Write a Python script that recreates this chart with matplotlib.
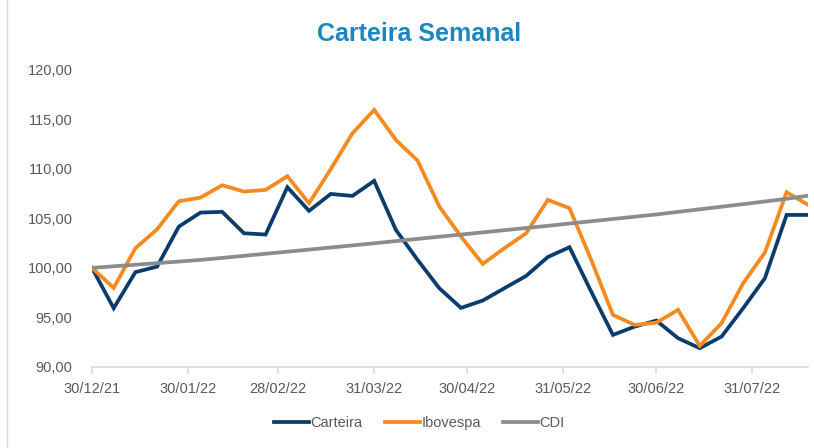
import numpy as np
import pandas as pd
import matplotlib
matplotlib.use("Agg")
import matplotlib.pyplot as plt
import matplotlib.dates as mdates
from matplotlib.patches import Rectangle
from matplotlib.ticker import FuncFormatter

# weekly dates, starting 30/12/21
dates = pd.date_range("2021-12-30", periods=34, freq="7D")

carteira = [100.00, 95.93, 99.57, 100.13, 104.17, 105.59, 105.66, 103.50, 103.37, 108.15,
            105.76, 107.47, 107.27, 108.79, 103.84, 100.81, 97.95, 95.96, 96.70, 97.95,
            99.19, 101.10, 102.09, 97.60, 93.23, 94.07, 94.68, 92.90, 91.89, 93.06,
            95.93, 98.96, 105.35, 105.35]

ibovespa = [100.00, 97.98, 101.99, 103.90, 106.73, 107.10, 108.35, 107.71, 107.88, 109.26,
            106.53, 109.97, 113.60, 115.96, 112.93, 110.84, 106.20, 103.16, 100.40, 101.99,
            103.50, 106.87, 106.03, 100.80, 95.25, 94.24, 94.47, 95.76, 92.12, 94.41,
            98.45, 101.55, 107.64, 106.36]

cdi = [100.00, 100.16, 100.32, 100.48, 100.64, 100.81, 101.01, 101.22, 101.43, 101.64,
       101.85, 102.06, 102.27, 102.49, 102.71, 102.93, 103.15, 103.37, 103.59, 103.81,
       104.03, 104.25, 104.48, 104.71, 104.94, 105.17, 105.40, 105.66, 105.92, 106.18,
       106.44, 106.71, 106.98, 107.30]

tick_dates = ["2021-12-30", "2022-01-30", "2022-02-28", "2022-03-31",
              "2022-04-30", "2022-05-31", "2022-06-30", "2022-07-31"]

plt.rcParams["font.family"] = ["Liberation Sans", "DejaVu Sans"]

fig = plt.figure(figsize=(8.14, 4.48), dpi=100)
ax = fig.add_axes([0.113, 0.181, 0.880, 0.663])

ax.plot(dates, carteira, color="#0B3C6E", lw=2.7, label="Carteira", solid_joinstyle="miter")
ax.plot(dates, ibovespa, color="#F58A1F", lw=2.7, label="Ibovespa", solid_joinstyle="miter")
ax.plot(dates, cdi, color="#8C8C8C", lw=2.7, label="CDI")

ax.set_ylim(90, 120)
ax.set_yticks(np.arange(90, 121, 5))
ax.yaxis.set_major_formatter(FuncFormatter(lambda v, p: f"{v:.2f}".replace(".", ",")))
ax.set_xlim(dates[0], dates[-1])
ax.set_xticks(pd.to_datetime(tick_dates))
ax.xaxis.set_major_formatter(mdates.DateFormatter("%d/%m/%y"))

for s in ["top", "right", "left"]:
    ax.spines[s].set_visible(False)
ax.spines["bottom"].set_color("#D9D9D9")
ax.spines["bottom"].set_linewidth(1.2)
ax.tick_params(axis="y", length=0, labelsize=10.5, labelcolor="#595959", pad=14)
ax.tick_params(axis="x", length=5, color="#D9D9D9", width=1.2, labelsize=10.5,
               labelcolor="#595959", pad=6)

fig.text(0.515, 0.925, "Carteira Semanal", ha="center", va="center", fontsize=18,
         fontweight="bold", color="#1B87C1")

leg = fig.legend(loc="center", bbox_to_anchor=(0.515, 0.055), ncol=3, frameon=False,
                 fontsize=10.5, handlelength=2.4, handletextpad=0.1, columnspacing=1.5)
for t in leg.get_texts():
    t.set_color("#595959")

fig.patches.append(Rectangle((0.009, -0.01), 1.2, 1.2, transform=fig.transFigure,
                             fill=False, edgecolor="#D9D9D9", lw=1))

fig.savefig("out.png", dpi=100)
